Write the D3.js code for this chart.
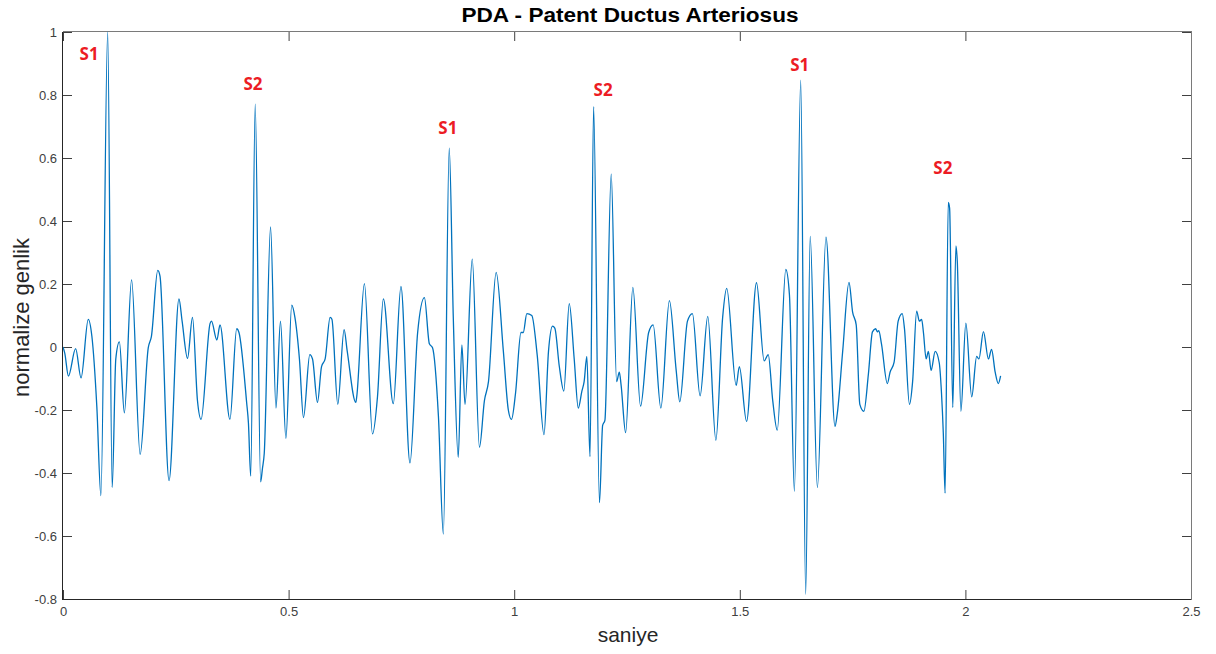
<!DOCTYPE html>
<html>
<head>
<meta charset="utf-8">
<script src="https://cdn.jsdelivr.net/npm/d3@7"></script>
<style>
  html, body { margin: 0; padding: 0; background: #fff; }
  svg { display: block; }
</style>
</head>
<body>
<svg id="chart" width="1216" height="654"></svg>
<script>
// Time axis (seconds) and normalised amplitude of the PCG recording
const time = [
  0.000, 0.004, 0.012, 0.028, 0.040, 0.056, 0.064, 0.075, 0.084, 0.099,
  0.109, 0.117, 0.125, 0.136, 0.152, 0.171, 0.189, 0.196, 0.210, 0.215,
  0.235, 0.257, 0.264, 0.276, 0.287, 0.298, 0.306, 0.326, 0.329, 0.341,
  0.348, 0.370, 0.385, 0.390, 0.407, 0.411, 0.416, 0.426, 0.438, 0.442,
  0.446, 0.460, 0.472, 0.482, 0.494, 0.507, 0.514, 0.524, 0.533, 0.547,
  0.553, 0.564, 0.573, 0.581, 0.592, 0.596, 0.609, 0.623, 0.630, 0.649,
  0.651, 0.668, 0.686, 0.697, 0.710, 0.732, 0.749, 0.769, 0.786, 0.801,
  0.812, 0.819, 0.832, 0.843, 0.856, 0.865, 0.876, 0.884, 0.891, 0.907,
  0.923, 0.934, 0.943, 0.960, 0.976, 0.987, 0.994, 1.003, 1.015, 1.020,
  1.028, 1.039, 1.051, 1.066, 1.076, 1.085, 1.090, 1.100, 1.110, 1.122,
  1.133, 1.142, 1.150, 1.155, 1.161, 1.168, 1.176, 1.189, 1.196, 1.201,
  1.215, 1.227, 1.233, 1.237, 1.247, 1.263, 1.280, 1.298, 1.308, 1.325,
  1.344, 1.359, 1.367, 1.384, 1.395, 1.412, 1.429, 1.447, 1.462, 1.471,
  1.492, 1.499, 1.515, 1.537, 1.554, 1.563, 1.573, 1.583, 1.602, 1.610,
  1.621, 1.635, 1.646, 1.656, 1.672, 1.691, 1.711, 1.716, 1.728, 1.742,
  1.750, 1.758, 1.766, 1.775, 1.785, 1.794, 1.801, 1.805, 1.808, 1.814,
  1.827, 1.833, 1.842, 1.851, 1.860, 1.865, 1.876, 1.883, 1.892, 1.898,
  1.903, 1.907, 1.913, 1.918, 1.924, 1.933, 1.942, 1.947, 1.951, 1.955,
  1.962, 1.965, 1.972, 1.979, 1.982, 1.990, 2.001, 2.014, 2.025, 2.030,
  2.040, 2.051, 2.058, 2.066, 2.073, 2.078
];
const amplitude = [
   0.000, -0.020, -0.092, -0.005, -0.098,  0.088,  0.034, -0.190, -0.472,  1.000,
  -0.446, -0.038,  0.016, -0.209,  0.213, -0.341, -0.002,  0.034,  0.243,  0.225,
  -0.424,  0.153,  0.082, -0.036,  0.094, -0.170, -0.230,  0.075,  0.082,  0.022,
   0.070, -0.230,  0.058,  0.046, -0.176, -0.242, -0.410,  0.771, -0.428, -0.386,
  -0.338,  0.381, -0.194,  0.082, -0.290,  0.133,  0.094, -0.038, -0.224, -0.024,
  -0.038, -0.176, -0.062, -0.038,  0.094,  0.088, -0.182,  0.055, -0.014, -0.176,
  -0.158,  0.201, -0.276, -0.158,  0.153, -0.180,  0.192, -0.368,  0.046,  0.157,
   0.010, -0.002, -0.218, -0.594,  0.631,  0.094, -0.350,  0.007, -0.182,  0.279,
  -0.318, -0.170, -0.110,  0.237, -0.014, -0.200, -0.230, -0.146,  0.046,  0.046,
   0.106,  0.100, -0.026, -0.278, -0.014,  0.066,  0.060, -0.062, -0.140,  0.138,
  -0.038, -0.194, -0.140, -0.110, -0.030, -0.348,  0.763, -0.494, -0.249, -0.233,
   0.549, -0.110, -0.080, -0.122, -0.272,  0.189, -0.188,  0.046,  0.070, -0.194,
   0.147, -0.074, -0.174,  0.082,  0.106, -0.155,  0.097, -0.296,  0.094,  0.186,
  -0.122, -0.062, -0.236,  0.204, -0.044, -0.024, -0.170, -0.264,  0.246,  0.166,
  -0.458,  0.847, -0.785,  0.351, -0.446,  0.349, -0.252, -0.212, -0.014,  0.205,
   0.111,  0.070, -0.182, -0.204, -0.086,  0.048,  0.058,  0.048,  0.052,  0.010,
  -0.116, -0.080, -0.048,  0.082,  0.106,  0.058, -0.182, -0.110,  0.114,  0.082,
   0.088,  0.046, -0.038, -0.014, -0.074, -0.014, -0.050, -0.146, -0.272, -0.464,
   0.459,  0.441, -0.192,  0.321,  0.273, -0.204,  0.076, -0.158, -0.030, -0.038,
   0.049, -0.038, -0.008, -0.080, -0.116, -0.092
];

// Heart-sound markers (label, time, amplitude where the label sits)
const markerNames = ["S1", "S2", "S1", "S2", "S1", "S2"];
const markerTime  = [0.058, 0.421, 0.853, 1.197, 1.633, 1.950];
const markerAmp   = [0.933, 0.837, 0.697, 0.819, 0.898, 0.569];

const xTicks = [0, 0.5, 1, 1.5, 2, 2.5];
const yTicks = [-0.8, -0.6, -0.4, -0.2, 0, 0.2, 0.4, 0.6, 0.8, 1];

const titleText = "PDA - Patent Ductus Arteriosus";
const xLabelText = "saniye";
const yLabelText = "normalize genlik";

// ---- layout ----
const svg = d3.select("#chart");
const plotLeft = 63, plotRight = 1191, plotTop = 32, plotBottom = 599;
const tickLen = 9;

const x = d3.scaleLinear().domain([0, 2.5]).range([plotLeft, plotRight]);
const y = d3.scaleLinear().domain([-0.8, 1]).range([plotBottom, plotTop]);

const fontAxis = "'Liberation Sans', Arial, Helvetica, sans-serif";
const tickColor = "#404040";

// clip region for the trace
svg.append("defs").append("clipPath").attr("id", "plotClip")
  .append("rect").attr("x", plotLeft).attr("y", plotTop - 1)
  .attr("width", plotRight - plotLeft).attr("height", plotBottom - plotTop + 2);

// axes (ticks point inward, mirrored on top/right); plain hyphen for negatives
const fmt = d => String(d);
const xAxisBottom = svg.append("g").attr("transform", `translate(0,${plotBottom})`)
  .call(d3.axisBottom(x).tickValues(xTicks).tickSize(-tickLen).tickPadding(8).tickFormat(fmt));
const xAxisTop = svg.append("g").attr("transform", `translate(0,${plotTop})`)
  .call(d3.axisTop(x).tickValues(xTicks).tickSize(-tickLen).tickFormat(""));
const yAxisLeft = svg.append("g").attr("transform", `translate(${plotLeft},0)`)
  .call(d3.axisLeft(y).tickValues(yTicks).tickSize(-tickLen).tickPadding(6).tickFormat(fmt));
const yAxisRight = svg.append("g").attr("transform", `translate(${plotRight},0)`)
  .call(d3.axisRight(y).tickValues(yTicks).tickSize(-tickLen).tickFormat(""));

[xAxisBottom, xAxisTop, yAxisLeft, yAxisRight].forEach(g => {
  g.select(".domain").remove();
  g.selectAll(".tick line").attr("stroke", "#404040").attr("stroke-width", 1);
  g.selectAll(".tick text")
    .attr("fill", tickColor)
    .style("font-family", fontAxis)
    .style("font-size", "13px");
});

// box
svg.append("line").attr("x1", plotLeft).attr("x2", plotRight)
  .attr("y1", plotBottom + 0.5).attr("y2", plotBottom + 0.5)
  .attr("stroke", "#262626").attr("stroke-width", 1);
svg.append("line").attr("x1", plotLeft - 0.5).attr("x2", plotLeft - 0.5)
  .attr("y1", plotTop).attr("y2", plotBottom + 1)
  .attr("stroke", "#262626").attr("stroke-width", 1);
svg.append("line").attr("x1", plotLeft).attr("x2", plotRight)
  .attr("y1", plotTop - 0.5).attr("y2", plotTop - 0.5)
  .attr("stroke", "#7a7a7a").attr("stroke-width", 1);
svg.append("line").attr("x1", plotRight + 0.5).attr("x2", plotRight + 0.5)
  .attr("y1", plotTop - 1).attr("y2", plotBottom + 1)
  .attr("stroke", "#7a7a7a").attr("stroke-width", 1);

// signal trace
const points = time.map((t, i) => [t, amplitude[i]]);
const line = d3.line()
  .x(d => x(d[0]))
  .y(d => y(d[1]))
  .curve(d3.curveMonotoneX);

svg.append("path")
  .datum(points)
  .attr("clip-path", "url(#plotClip)")
  .attr("fill", "none")
  .attr("stroke", "#0072BD")
  .attr("stroke-width", 1.3)
  .attr("stroke-linejoin", "round")
  .attr("d", line);

// S1 / S2 annotations
svg.append("g").selectAll("text")
  .data(markerNames.map((n, i) => ({ n, t: markerTime[i], a: markerAmp[i] })))
  .join("text")
  .attr("x", d => x(d.t))
  .attr("y", d => y(d.a))
  .attr("text-anchor", "middle")
  .attr("dominant-baseline", "central")
  .attr("fill", "#ec1c24")
  .style("font-family", "'Open Sans', 'Noto Sans', sans-serif")
  .style("font-weight", "700")
  .style("font-size", "17px")
  .text(d => d.n);

// title and axis labels
svg.append("text")
  .attr("x", (plotLeft + plotRight) / 2 + 3)
  .attr("y", 22)
  .attr("text-anchor", "middle")
  .attr("fill", "#000")
  .attr("textLength", 337)
  .attr("lengthAdjust", "spacingAndGlyphs")
  .style("font-family", fontAxis)
  .style("font-weight", "700")
  .style("font-size", "20px")
  .text(titleText);

svg.append("text")
  .attr("x", (plotLeft + plotRight) / 2 + 1)
  .attr("y", 642)
  .attr("text-anchor", "middle")
  .attr("fill", "#262626")
  .style("font-family", fontAxis)
  .style("font-size", "21px")
  .text(xLabelText);

svg.append("text")
  .attr("transform", `translate(29,${(plotTop + plotBottom) / 2 + 2}) rotate(-90)`)
  .attr("text-anchor", "middle")
  .attr("fill", "#262626")
  .style("font-family", fontAxis)
  .style("font-size", "22px")
  .text(yLabelText);
</script>
</body>
</html>
